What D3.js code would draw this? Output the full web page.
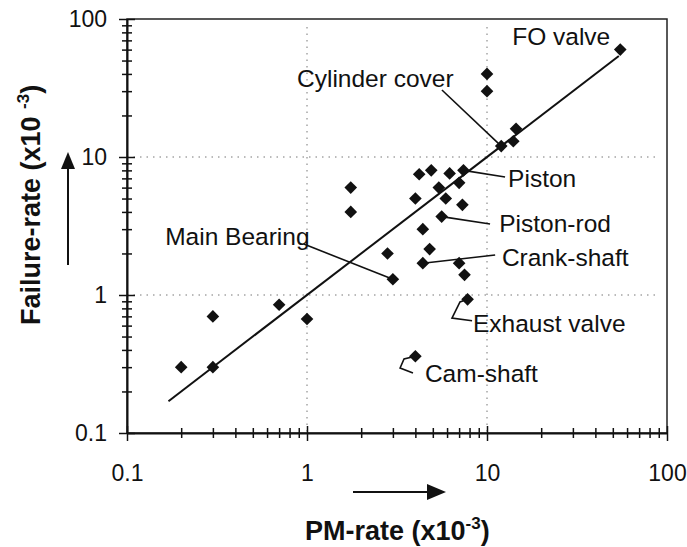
<!DOCTYPE html>
<html>
<head>
<meta charset="utf-8">
<script src="https://cdn.jsdelivr.net/npm/d3@7"></script>
<style>
  html, body { margin: 0; padding: 0; background: #fff; }
  svg { display: block; }
  text { font-family: "Liberation Sans", Arial, sans-serif; fill: #111; }
</style>
</head>
<body>
<svg id="chart" width="687" height="547"></svg>
<script>
// ---- data ----
const pmRate      = [0.2, 0.3, 0.3, 0.7, 1.0, 1.75, 1.75, 2.8, 3.0, 4.0, 7.8, 4.4, 7.0, 7.5, 4.8, 4.4, 5.6, 7.3, 4.0, 5.9, 5.4, 7.0, 4.2, 4.9, 6.2, 7.4, 12, 14, 14.5, 10, 10, 55];
const failureRate = [0.3, 0.3, 0.7, 0.85, 0.67, 6.0, 4.0, 2.0, 1.3, 0.36, 0.93, 1.7, 1.7, 1.4, 2.15, 3.0, 3.7, 4.5, 5.0, 5.0, 6.0, 6.5, 7.5, 8.0, 7.6, 8.0, 12, 13, 16, 30, 40, 60];
const fitX = [0.17, 54];
const fitY = [0.17, 54];
const tickLabels = ["0.1", "1", "10", "100"];
const majorTicks = [0.1, 1, 10, 100];
const gridValues = [1, 10];
// annotation labels: text, label anchor (data units), leader polyline (data units)
const annoNames = ["FO valve", "Cylinder cover", "Piston", "Piston-rod", "Crank-shaft", "Exhaust valve", "Cam-shaft", "Main Bearing"];
const annoAnchorX = [13.8, 0.88, 13.1, 11.7, 12.1, 8.36, 4.52, 0.163];
const annoAnchorY = [64.8, 32.2, 6.06, 2.86, 1.62, 0.54, 0.234, 2.30];
const leaderLines = [
  [],
  [[5.62, 30.6], [12, 12]],
  [[7.4, 8.0], [12.6, 7.16]],
  [[5.6, 3.7], [10.4, 3.27]],
  [[4.4, 1.7], [11.1, 1.95]],
  [[7.8, 0.93], [7.08, 0.89], [6.39, 0.68], [8.26, 0.65]],
  [[4.0, 0.36], [3.46, 0.344], [3.29, 0.296], [3.88, 0.272]],
  [[0.96, 2.34], [3.0, 1.3]]
];
const extraLeaders = [[[7.0, 1.7], [7.0, 1.84]]];

// ---- layout ----
const W = 687, H = 547;
const margin = {left: 127, top: 19, right: 20, bottom: 114};
const svg = d3.select("#chart");

const x = d3.scaleLog().domain([0.1, 100]).range([margin.left, W - margin.right]);
const y = d3.scaleLog().domain([0.1, 100]).range([H - margin.bottom, margin.top]);

const allTicks = [];
for (let d = 0.1; d < 100; d *= 10) for (let k = 1; k < 10; k++) allTicks.push(+(d * k).toPrecision(3));
allTicks.push(100);
const labelOf = v => { const i = majorTicks.findIndex(m => Math.abs(m - v) < 1e-9); return i >= 0 ? tickLabels[i] : ""; };
const isMajor = v => majorTicks.some(m => Math.abs(m - v) < 1e-9);

// frame
svg.append("rect")
  .attr("x", margin.left).attr("y", margin.top)
  .attr("width", W - margin.left - margin.right).attr("height", H - margin.top - margin.bottom)
  .attr("fill", "none").attr("stroke", "#222").attr("stroke-width", 1.5);

// grid
const g = svg.append("g");
g.selectAll(".gx").data(gridValues).join("line")
  .attr("x1", d => x(d)).attr("x2", d => x(d))
  .attr("y1", margin.top + 8).attr("y2", H - margin.bottom)
  .attr("stroke", "#777").attr("stroke-width", 1).attr("stroke-dasharray", "1.5,5");
g.selectAll(".gy").data(gridValues).join("line")
  .attr("y1", d => y(d)).attr("y2", d => y(d))
  .attr("x1", margin.left).attr("x2", W - margin.right - 10)
  .attr("stroke", "#777").attr("stroke-width", 1).attr("stroke-dasharray", "1.5,5");

// axes
const xAxis = d3.axisBottom(x).tickValues(allTicks).tickFormat(labelOf).tickSizeInner(5).tickSizeOuter(0).tickPadding(27);
const yAxis = d3.axisLeft(y).tickValues(allTicks).tickFormat(labelOf).tickSizeInner(5).tickSizeOuter(0).tickPadding(15);

const gx = svg.append("g").attr("transform", `translate(0,${H - margin.bottom})`).call(xAxis);
const gy = svg.append("g").attr("transform", `translate(${margin.left},0)`).call(yAxis);
[gx, gy].forEach(ax => {
  ax.select(".domain").attr("stroke", "#111").attr("stroke-width", 2);
  ax.selectAll(".tick line").attr("stroke", "#111").attr("stroke-width", 1.5);
  ax.selectAll(".tick text").attr("font-size", 23).attr("font-family", '"Liberation Sans", Arial, sans-serif').attr("fill", "#111");
});
gx.selectAll(".tick line").attr("y1", d => isMajor(d) ? -7 : -5).attr("y2", d => isMajor(d) ? 8 : 5);
gy.selectAll(".tick line").attr("x1", d => isMajor(d) ? 8 : 5).attr("x2", d => isMajor(d) ? -8 : -5);

// fit line
const fitData = fitX.map((v, i) => [v, fitY[i]]);
svg.append("path").datum(fitData)
  .attr("d", d3.line().x(d => x(d[0])).y(d => y(d[1])))
  .attr("stroke", "#111").attr("stroke-width", 2).attr("fill", "none");

// leader lines
const lineGen = d3.line().x(d => x(d[0])).y(d => y(d[1]));
svg.append("g").selectAll("path").data(leaderLines.concat(extraLeaders).filter(l => l.length))
  .join("path").attr("d", lineGen)
  .attr("stroke", "#111").attr("stroke-width", 1.6).attr("fill", "none");

// points
const pts = pmRate.map((v, i) => [v, failureRate[i]]);
svg.append("g").selectAll("path").data(pts).join("path")
  .attr("transform", d => `translate(${x(d[0])},${y(d[1])}) rotate(45)`)
  .attr("d", d3.symbol(d3.symbolSquare, 80))
  .attr("fill", "#111");

// annotation labels
svg.append("g").selectAll("text").data(annoNames).join("text")
  .attr("x", (d, i) => x(annoAnchorX[i]))
  .attr("y", (d, i) => y(annoAnchorY[i]))
  .attr("font-size", 24.5)
  .text(d => d);

// axis titles
const xt = svg.append("text").attr("x", 305).attr("y", 540)
  .attr("font-size", 27).attr("font-weight", "bold");
xt.append("tspan").text("PM-rate (x10");
xt.append("tspan").attr("font-size", 17).attr("dy", -11).text("-3");
xt.append("tspan").attr("dy", 11).text(")");

const yt = svg.append("text").attr("transform", "translate(40,325) rotate(-90)")
  .attr("font-size", 27).attr("font-weight", "bold");
yt.append("tspan").text("Failure-rate (x10 ");
yt.append("tspan").attr("font-size", 17).attr("dy", -11).text("-3");
yt.append("tspan").attr("dy", 11).text(")");

// arrows
svg.append("line").attr("x1", 68).attr("x2", 68).attr("y1", 265).attr("y2", 165)
  .attr("stroke", "#111").attr("stroke-width", 2);
svg.append("path").attr("d", "M61,169 L75,169 L68,152 Z").attr("fill", "#111");
svg.append("line").attr("x1", 353).attr("x2", 430).attr("y1", 492).attr("y2", 492)
  .attr("stroke", "#111").attr("stroke-width", 2);
svg.append("path").attr("d", "M427,484 L427,500 L446,492 Z").attr("fill", "#111");
</script>
</body>
</html>
